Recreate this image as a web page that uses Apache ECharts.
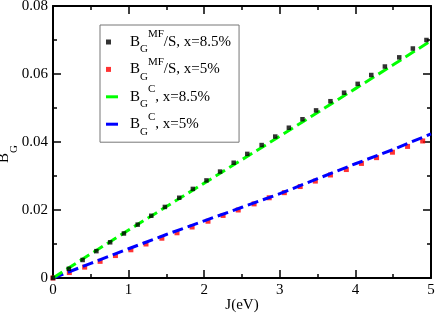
<!DOCTYPE html>
<html>
<head>
<meta charset="utf-8">
<script src="https://cdn.jsdelivr.net/npm/echarts@6/dist/echarts.min.js"></script>
<style>
html,body{margin:0;padding:0;background:#fff;}
#chart{width:436px;height:313px;}
</style>
</head>
<body>
<div id="chart"></div>
<script>
// ---- data ----
const blackJ = [0, 0.21, 0.392, 0.574, 0.756, 0.938, 1.12, 1.30, 1.48, 1.67, 1.85, 2.03, 2.21, 2.39, 2.57, 2.76, 2.94, 3.12, 3.30, 3.48, 3.67, 3.85, 4.03, 4.21, 4.39, 4.58, 4.76, 4.94];
const blackVal = [0, 0.0027, 0.0053, 0.0079, 0.0105, 0.0131, 0.0157, 0.0183, 0.0209, 0.0236, 0.0262, 0.0287, 0.0313, 0.0339, 0.0365, 0.0391, 0.0416, 0.0442, 0.0467, 0.0493, 0.0520, 0.0545, 0.0571, 0.0597, 0.0622, 0.0649, 0.0675, 0.0700];
const redJ = [0, 0.216, 0.419, 0.623, 0.826, 1.03, 1.23, 1.44, 1.64, 1.84, 2.05, 2.25, 2.45, 2.66, 2.86, 3.06, 3.27, 3.47, 3.67, 3.88, 4.08, 4.28, 4.49, 4.69, 4.89];
const redVal = [0, 0.0016, 0.0032, 0.0049, 0.0066, 0.0083, 0.0100, 0.0117, 0.0133, 0.0150, 0.0167, 0.0184, 0.0200, 0.0218, 0.0236, 0.0251, 0.0269, 0.0285, 0.0303, 0.0319, 0.0337, 0.0354, 0.0370, 0.0387, 0.0403];
const lineJ = [0, 0.5, 1, 1.5, 2, 2.5, 3, 3.5, 4, 4.5, 5];
const greenVal = [0, 0.0071, 0.0141, 0.0210, 0.0279, 0.0348, 0.0417, 0.0487, 0.0557, 0.0627, 0.0698];
const blueVal = [0, 0.0043, 0.0086, 0.0128, 0.0168, 0.0208, 0.0248, 0.0292, 0.0336, 0.0378, 0.0424];
const xTicks = [0, 1, 2, 3, 4, 5];
const yTicks = [0, 0.02, 0.04, 0.06, 0.08];
const legendLabels = {
  mf85: '{b|B}{s|G}{p|MF}{n|/S, x=8.5%}',
  mf5: '{b|B}{s|G}{p|MF}{n|/S, x=5%}',
  c85: '{b|B}{s|G}{p|C}{n|, x=8.5%}',
  c5: '{b|B}{s|G}{p|C}{n|, x=5%}'
};

const pairs = (xs, ys) => xs.map((x, i) => [x, ys[i]]);
const FONT = 'Liberation Serif';

const chart = echarts.init(document.getElementById('chart'), null, {renderer: 'canvas'});

const axisCommon = {
  axisLine: {show: true, onZero: false, lineStyle: {color: '#000', width: 2}},
  axisTick: {show: true, inside: true, length: 8, lineStyle: {color: '#000', width: 1.5}},
  minorTick: {show: true, length: 4, splitNumber: 2, lineStyle: {color: '#000', width: 1.5}},
  splitLine: {show: false},
  minorSplitLine: {show: false},
  nameMoveOverlap: false
};

const option = {
  backgroundColor: '#fff',
  animation: false,
  grid: {left: 53, right: 5, top: 6, bottom: 35, outerBoundsMode: 'none', containLabel: false},
  xAxis: [
    Object.assign({}, axisCommon, {
      type: 'value', min: xTicks[0], max: xTicks[xTicks.length - 1], interval: 1, position: 'bottom',
      axisLabel: {show: true, margin: 5, color: '#000', fontFamily: FONT, fontSize: 15,
        formatter: v => String(v)},
      name: 'J(eV)', nameLocation: 'middle', nameGap: 20,
      nameTextStyle: {color: '#000', fontFamily: FONT, fontSize: 15}
    }),
    Object.assign({}, axisCommon, {
      type: 'value', min: xTicks[0], max: xTicks[xTicks.length - 1], interval: 1, position: 'top',
      axisLabel: {show: false}
    })
  ],
  yAxis: [
    Object.assign({}, axisCommon, {
      type: 'value', min: yTicks[0], max: yTicks[yTicks.length - 1], interval: 0.02, position: 'left',
      axisLabel: {show: true, margin: 5, color: '#000', fontFamily: FONT, fontSize: 15,
        formatter: v => String(Math.round(v * 100) / 100)},
      name: '{b|B}{s|G}', nameLocation: 'middle', nameGap: 33, nameRotate: 90,
      nameTextStyle: {color: '#000', fontFamily: FONT, padding: [0, 24, 0, 0],
        rich: {
          b: {fontFamily: FONT, fontSize: 15, lineHeight: 32, verticalAlign: 'middle', color: '#000'},
          s: {fontFamily: FONT, fontSize: 11, lineHeight: 10, verticalAlign: 'bottom', color: '#000'}
        }}
    }),
    Object.assign({}, axisCommon, {
      type: 'value', min: yTicks[0], max: yTicks[yTicks.length - 1], interval: 0.02, position: 'right',
      axisLabel: {show: false}
    })
  ],
  legend: {
    orient: 'vertical', left: 100, top: 25,
    padding: [4, 8, 5, 6],
    borderColor: '#777', borderWidth: 1, borderRadius: 0,
    backgroundColor: '#fff',
    itemWidth: 19, itemHeight: 5, itemGap: 1.4,
    selectedMode: false,
    itemStyle: {borderWidth: 0},
    data: [
      {name: 'mf85', icon: 'path://M19,5M0,0h5v5h-5z'},
      {name: 'mf5', icon: 'path://M19,5M0,0h5v5h-5z'},
      {name: 'c85', icon: 'path://M0,0M19,5M0,1h12v3h-12z'},
      {name: 'c5', icon: 'path://M0,0M19,5M0,1h12v3h-12z'}
    ],
    formatter: name => legendLabels[name],
    textStyle: {
      color: '#000', fontFamily: FONT, fontSize: 15, padding: 0,
      rich: {
        b: {fontFamily: FONT, fontSize: 15, lineHeight: 26, verticalAlign: 'middle', color: '#000'},
        s: {fontFamily: FONT, fontSize: 11, lineHeight: 11, verticalAlign: 'bottom', color: '#000'},
        p: {fontFamily: FONT, fontSize: 11, lineHeight: 11, verticalAlign: 'top', color: '#000'},
        n: {fontFamily: FONT, fontSize: 15, lineHeight: 26, verticalAlign: 'middle', color: '#000'}
      }
    }
  },
  series: [
    {
      name: 'mf5', type: 'scatter', xAxisIndex: 0, yAxisIndex: 0,
      data: pairs(redJ, redVal), symbol: 'rect', symbolSize: 5,
      itemStyle: {color: '#ff0000', borderWidth: 0}, z: 2
    },
    {
      name: 'c5', type: 'line', xAxisIndex: 0, yAxisIndex: 0,
      data: pairs(lineJ, blueVal), showSymbol: false, symbol: 'none', smooth: false,
      itemStyle: {color: '#0000ff'},
      lineStyle: {color: '#0000ff', width: 3, type: [11, 5]}, z: 3
    },
    {
      name: 'c85', type: 'line', xAxisIndex: 0, yAxisIndex: 0,
      data: pairs(lineJ, greenVal), showSymbol: false, symbol: 'none', smooth: false,
      itemStyle: {color: '#00ff00'},
      lineStyle: {color: '#00ff00', width: 3, type: [11, 5]}, z: 4
    },
    {
      name: 'mf85', type: 'scatter', xAxisIndex: 0, yAxisIndex: 0,
      data: pairs(blackJ, blackVal), symbol: 'rect', symbolSize: 4.5,
      itemStyle: {color: '#000000', borderWidth: 0}, z: 5
    }
  ]
};
chart.setOption(option);
</script>
</body>
</html>
